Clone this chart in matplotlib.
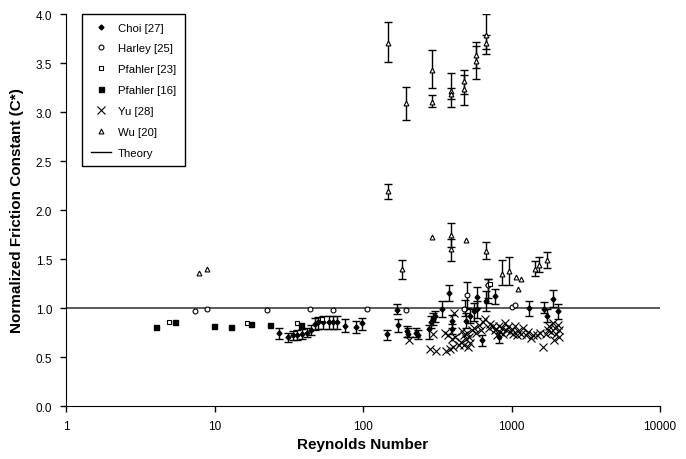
import numpy as np
import matplotlib.pyplot as plt

plt.rcParams['font.family'] = ['Liberation Sans', 'DejaVu Sans']

# Choi [27] - filled diamonds with error bars (Re, C*, lower, upper)
choi_re = [27.3, 31.4, 33.6, 36.0, 38.6, 41.8, 44.6, 47.6, 50, 53.9, 59, 63, 67, 76, 90, 98,
           146, 170, 172, 197, 202, 226, 235, 280, 285, 298, 305, 339, 379, 395, 395,
           486, 496, 526, 560, 582, 589, 630, 674, 698, 774, 828, 1312, 1648, 1727, 1893, 2047]
choi_c = [0.745, 0.70, 0.72, 0.72, 0.735, 0.75, 0.78, 0.84, 0.86, 0.86, 0.86, 0.86, 0.86, 0.82, 0.81, 0.85,
          0.735, 0.98, 0.83, 0.77, 0.74, 0.75, 0.72, 0.79, 0.86, 0.89, 0.92, 0.99, 1.15, 0.87, 0.79,
          0.99, 0.87, 0.92, 0.97, 0.99, 1.11, 0.67, 1.07, 1.23, 1.12, 0.70, 1.00, 0.99, 0.92, 1.09, 0.97]
choi_lo = [0.68, 0.65, 0.67, 0.67, 0.68, 0.70, 0.72, 0.78, 0.79, 0.79, 0.79, 0.79, 0.79, 0.76, 0.75, 0.78,
           0.67, 0.94, 0.76, 0.70, 0.70, 0.70, 0.68, 0.68, 0.80, 0.83, 0.86, 0.91, 1.07, 0.80, 0.74,
           0.92, 0.80, 0.85, 0.87, 0.90, 1.00, 0.61, 0.97, 1.05, 1.04, 0.64, 0.92, 0.95, 0.86, 1.01, 0.89]
choi_hi = [0.80, 0.75, 0.77, 0.78, 0.79, 0.80, 0.83, 0.90, 0.91, 0.92, 0.92, 0.92, 0.92, 0.89, 0.87, 0.90,
           0.78, 1.04, 0.89, 0.82, 0.80, 0.80, 0.78, 0.83, 0.92, 0.95, 0.97, 1.07, 1.24, 0.93, 0.84,
           1.08, 0.95, 0.99, 1.05, 1.07, 1.21, 0.72, 1.17, 1.30, 1.19, 0.75, 1.07, 1.06, 0.99, 1.18, 1.04]

# Harley [25] - open circles
harley_re = [7.39, 8.9, 22.6, 43.8, 63, 107, 194, 481, 1003, 1061, 501, 698]
harley_c = [0.97, 0.99, 0.98, 0.99, 0.98, 0.99, 0.98, 0.99, 1.01, 1.03, 1.13, 1.24]
harley_err_re = [501, 698]
harley_err_c = [1.13, 1.24]
harley_err_lo = [1.00, 1.10]
harley_err_hi = [1.27, 1.30]

# Pfahler [23] - open squares
pf23_re = [4.94, 16.6, 35.8, 53, 715]
pf23_c = [0.86, 0.85, 0.85, 0.89, 1.25]

# Pfahler [16] - filled squares
pf16_re = [4.04, 5.42, 9.88, 12.9, 17.6, 23.5, 38]
pf16_c = [0.81, 0.86, 0.82, 0.81, 0.84, 0.83, 0.83]

# Yu [28] - crosses
yu_re = [203, 282, 312, 298, 355, 364, 375, 385, 395, 405, 409, 415, 440, 455, 467, 475, 480, 490,
         500, 510, 520, 526, 540, 560, 580, 600, 620, 640, 660, 700, 720, 750, 770, 790, 800, 820,
         840, 860, 880, 900, 920, 950, 980, 1000, 1030, 1050, 1080, 1100, 1150, 1200, 1250, 1300,
         1350, 1400, 1480, 1550, 1620, 1700, 1750, 1800, 1850, 1900, 1930, 1960, 2000, 2050, 2080, 2100]
yu_c = [0.67, 0.58, 0.56, 0.73, 0.75, 0.56, 0.72, 0.58, 0.68, 0.60, 0.95, 0.70, 0.62, 0.65, 0.77, 0.72, 0.62, 0.68,
        0.75, 0.60, 0.70, 0.64, 0.78, 0.80, 0.75, 0.83, 0.78, 0.86, 0.89, 0.80, 0.84, 0.82, 0.78, 0.79, 0.72, 0.82,
        0.76, 0.80, 0.74, 0.85, 0.78, 0.81, 0.76, 0.79, 0.74, 0.82, 0.72, 0.77, 0.74, 0.80, 0.72, 0.76,
        0.69, 0.72, 0.72, 0.75, 0.60, 0.74, 0.78, 0.82, 0.76, 0.85, 0.67, 0.80, 0.74, 0.83, 0.78, 0.70]

# Wu [20] - open triangles
wu_re = [7.83, 8.9, 291, 491, 1067, 1153, 1101]
wu_c = [1.36, 1.40, 1.72, 1.69, 1.32, 1.30, 1.19]
wu_err_re = [147, 195, 291, 291, 389, 389, 481, 481, 577, 577, 674, 674,
             147, 184, 391, 391, 676, 867, 962, 1439, 1530, 1734]
wu_err_c = [3.71, 3.09, 3.43, 3.10, 3.22, 3.18, 3.32, 3.24, 3.58, 3.52, 3.79, 3.71,
            2.19, 1.40, 1.75, 1.60, 1.58, 1.35, 1.38, 1.40, 1.44, 1.49]
wu_err_lo = [3.51, 2.92, 3.25, 3.05, 3.05, 3.13, 3.07, 3.18, 3.34, 3.45, 3.59, 3.64,
             2.11, 1.30, 1.62, 1.48, 1.50, 1.23, 1.23, 1.33, 1.37, 1.41]
wu_err_hi = [3.92, 3.26, 3.63, 3.17, 3.40, 3.25, 3.43, 3.38, 3.72, 3.67, 4.00, 3.79,
             2.27, 1.49, 1.87, 1.70, 1.67, 1.49, 1.52, 1.48, 1.52, 1.57]

fig = plt.figure(figsize=(6.86, 4.60), dpi=100)
ax = fig.add_axes([0.0962, 0.1152, 0.866, 0.852])

def bars(re, c, lo, hi):
    c = np.array(c)
    yerr = [c - np.array(lo), np.array(hi) - c]
    ax.errorbar(re, c, yerr=yerr, fmt='none', ecolor='black', elinewidth=1.0,
                capsize=3, capthick=1.0, zorder=2)

bars(choi_re, choi_c, choi_lo, choi_hi)
bars(harley_err_re, harley_err_c, harley_err_lo, harley_err_hi)
bars(wu_err_re, wu_err_c, wu_err_lo, wu_err_hi)

ax.axhline(1.0, color='0.3', lw=1.3, zorder=1)

ax.plot(choi_re, choi_c, 'D', ms=2.5, color='black', ls='none', label='Choi [27]', zorder=3)
ax.plot(harley_re, harley_c, 'o', ms=3.5, mfc='white', mec='black', mew=0.8, ls='none',
        label='Harley [25]', zorder=3)
ax.plot(pf23_re, pf23_c, 's', ms=3.5, mfc='white', mec='black', mew=0.8, ls='none',
        label='Pfahler [23]', zorder=3)
ax.plot(pf16_re, pf16_c, 's', ms=3.6, color='black', ls='none', label='Pfahler [16]', zorder=3)
ax.plot(yu_re, yu_c, 'x', ms=5.5, color='black', mew=0.8, ls='none', label='Yu [28]', zorder=3)
ax.plot(wu_re + wu_err_re, wu_c + wu_err_c, '^', ms=3.5, mfc='white', mec='black', mew=0.8,
        ls='none', label='Wu [20]', zorder=3)
ax.plot([], [], color='black', lw=1, label='Theory')

ax.set_xscale('log')
ax.set_xlim(1, 10000)
ax.set_ylim(0, 4.0)
ax.set_yticks(np.arange(0, 4.01, 0.5))
ax.set_yticklabels([f'{v:.1f}' for v in np.arange(0, 4.01, 0.5)])
ax.set_xticks([1, 10, 100, 1000, 10000])
ax.set_xticklabels(['1', '10', '100', '1000', '10000'])
ax.minorticks_off()
ax.tick_params(direction='out', length=4, width=1, labelsize=8.5, pad=6)
ax.spines['top'].set_visible(False)
ax.spines['right'].set_visible(False)

ax.set_xlabel('Reynolds Number', fontsize=11, fontweight='bold', labelpad=4)
ax.set_ylabel('Normalized Friction Constant (C*)', fontsize=11, fontweight='bold', labelpad=8)

leg = ax.legend(loc='upper left', bbox_to_anchor=(0.027, 1.0), borderaxespad=0,
                fancybox=False, edgecolor='black', framealpha=1, fontsize=8.2,
                labelspacing=0.95, handlelength=1.8, handletextpad=0.6, borderpad=0.75)
leg.get_frame().set_linewidth(1.0)

fig.savefig('out.png', dpi=100)
